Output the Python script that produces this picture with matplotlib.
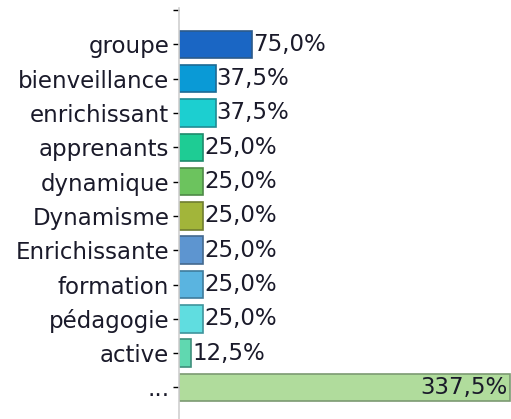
import matplotlib
matplotlib.use('Agg')
import matplotlib.pyplot as plt

# Data
categories = ['groupe', 'bienveillance', 'enrichissant', 'apprenants', 'dynamique',
              'Dynamisme', 'Enrichissante', 'formation', 'pédagogie', 'active', '...']
values = [75.0, 37.5, 37.5, 25.0, 25.0, 25.0, 25.0, 25.0, 25.0, 12.5, 337.5]
colors = ['#1a66c4', '#0a9ad6', '#1ccfd0', '#1ecc94', '#6cc35e', '#a2b53a',
          '#5d95d0', '#5ab4e0', '#60dde0', '#60d8b0', '#b0dc9c']
edges = ['#2c5a8a', '#1d6a94', '#1f8c94', '#1f8a6c', '#4f8a48', '#6f7d30',
         '#44698f', '#3f7c9c', '#3f949c', '#3f8f7c', '#7c9a72']

plt.rcParams['font.family'] = 'DejaVu Sans'

fig = plt.figure(figsize=(5.11, 4.19), dpi=100)
ax = fig.add_axes([179 / 511, 0, 332 / 511, 1 - 8 / 419])

pos = list(range(1, len(categories) + 1))
ax.barh(pos, values, height=0.8, color=colors, edgecolor=edges, linewidth=1.2)

for p, v in zip(pos, values):
    txt = f'{v:.1f}%'.replace('.', ',')
    if v > 300:
        ax.text(v - 2, p, txt, ha='right', va='center', fontsize=16.5, color='#1a1a2a')
    else:
        ax.text(v + 1, p, txt, ha='left', va='center', fontsize=16.5, color='#1a1a2a')

ax.set_yticks([0] + pos)
ax.set_yticklabels([''] + categories, fontsize=16.5, color='#1a1a2a')
ax.set_xlim(0, 339)
ax.set_ylim(11.92, -0.06)
ax.set_xticks([])

for s in ['top', 'right', 'bottom']:
    ax.spines[s].set_visible(False)
ax.spines['left'].set_color('#d0d0d0')
ax.spines['left'].set_linewidth(1.2)
ax.tick_params(axis='y', length=4, width=1, color='black', pad=3)

fig.savefig('out.png', dpi=100)
